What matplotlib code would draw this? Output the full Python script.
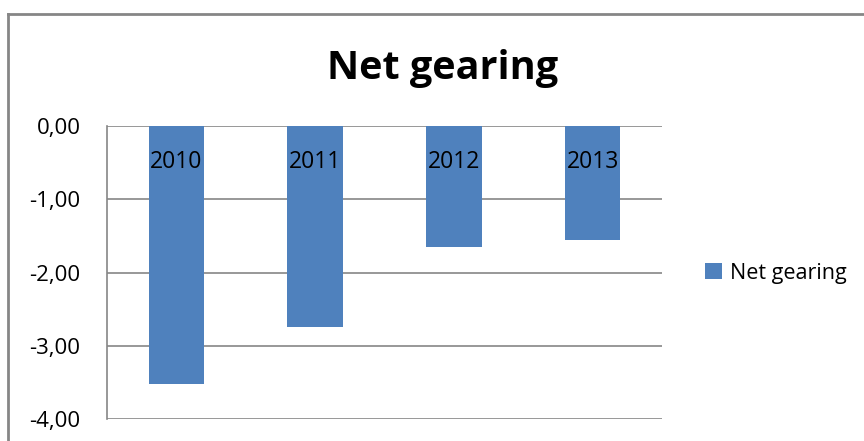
import matplotlib
matplotlib.use('Agg')
import matplotlib.pyplot as plt
from matplotlib.lines import Line2D
from matplotlib.ticker import FuncFormatter

years = ['2010', '2011', '2012', '2013']
net_gearing = [-3.52, -2.74, -1.65, -1.55]
series_name = 'Net gearing'

plt.rcParams['font.family'] = ['Open Sans', 'DejaVu Sans']

fig = plt.figure(figsize=(8.64, 4.41), dpi=100)
ax = fig.add_axes([107 / 864, 1 - 419 / 441, (662 - 107) / 864, (419 - 126) / 441])

x = list(range(len(years)))
ax.bar(x, net_gearing, width=0.4, color='#4F81BD', zorder=3, label=series_name)

ax.set_xlim(-0.5, len(years) - 0.5)
ax.set_ylim(-4, 0)
ax.set_yticks([0, -1, -2, -3, -4])
ax.yaxis.set_major_formatter(FuncFormatter(lambda v, p: ('%.2f' % v).replace('.', ',')))
ax.tick_params(axis='y', length=0, pad=19, labelsize=16)
ax.set_xticks([])
ax.grid(axis='y', color='#868686', linewidth=1.2, zorder=1)
for side in ['top', 'right', 'bottom']:
    ax.spines[side].set_visible(False)
ax.spines['left'].set_color('#868686')
ax.spines['left'].set_linewidth(1.2)

for xi, lab in zip(x, years):
    ax.text(xi, -0.49, lab, ha='center', va='center', fontsize=16.5, zorder=4)

fig.text(443 / 864, 1 - 68 / 441, 'Net gearing', ha='center', va='center',
         fontsize=28.5, fontweight='bold')

ax.legend(loc='center left', bbox_to_anchor=(705 / 864, 1 - 273 / 441),
          bbox_transform=fig.transFigure, frameon=False, fontsize=15.5,
          borderaxespad=0, borderpad=0,
          handlelength=0.8, handleheight=0.8, handletextpad=0.35)

fig.add_artist(Line2D([8 / 864, 1], [1 - 14 / 441, 1 - 14 / 441],
                      transform=fig.transFigure, color='#868686', linewidth=2))
fig.add_artist(Line2D([8 / 864, 8 / 864], [0, 1 - 14 / 441],
                      transform=fig.transFigure, color='#868686', linewidth=2))

fig.savefig('out.png', dpi=100)
